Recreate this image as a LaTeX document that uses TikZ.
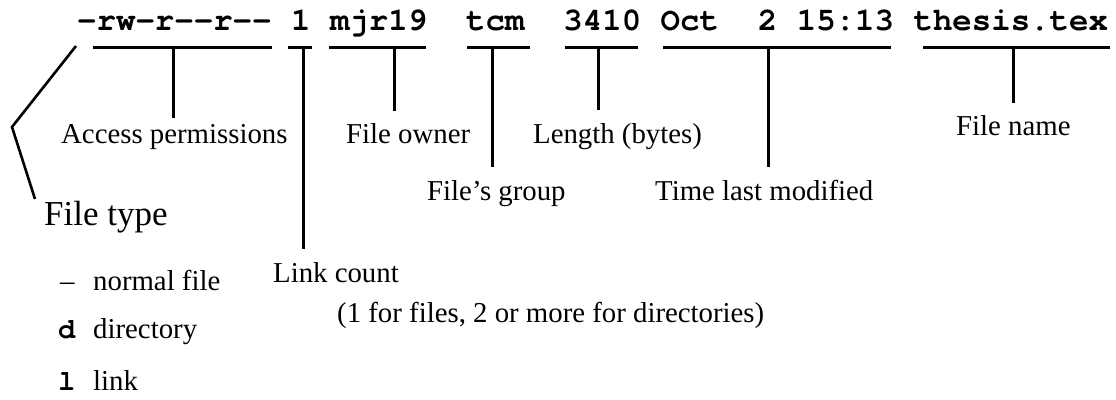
\documentclass[tikz,border=0pt]{standalone}
\usepackage{fontspec}
\setmainfont{Liberation Serif}
\newfontfamily\monob[Ligatures=NoCommon]{TeX Gyre Cursor}
\begin{document}
\begin{tikzpicture}[x=1pt,y=-1pt,
  lab/.style={anchor=base west, inner sep=0pt, font=\fontsize{28.8}{30}\selectfont},
  big/.style={anchor=base west, inner sep=0pt, font=\fontsize{35}{37}\selectfont},
  mono/.style={anchor=base west, inner sep=0pt, font=\fontsize{32.4}{34}\selectfont\monob\bfseries},
  monos/.style={anchor=base west, inner sep=0pt, font=\fontsize{28.8}{30}\selectfont\monob\bfseries},
  bar/.style={line width=3pt},
  lead/.style={line width=3pt},
  slant/.style={line width=2.6pt, line join=miter}]
\useasboundingbox (0,0) rectangle (1116,399);

% the ls -l line
\node[mono] (fperm)  at (77,30)     {-rw-r-{}-r-{}-};
\node[mono] (flink)  at (290.95,30) {1};
\node[mono] (fown)   at (329.85,30) {mjr19};
\node[mono] (fgrp)   at (466,30)    {tcm};
\node[mono] (fsize)  at (563.25,30) {3410};
\node[mono] (fmon)   at (660.5,30)  {Oct};
\node[mono] (fday)   at (757.75,30) {2};
\node[mono] (ftime)  at (796.65,30) {15:13};
\node[mono] (fname)  at (913.35,30) {thesis.tex};

% labels
\node[lab] (lperm)  at (61,143)  {Access permissions};
\node[lab] (lown)   at (346,143) {File owner};
\node[lab] (lsize)  at (533,143) {Length (bytes)};
\node[lab] (lname)  at (956,135) {File name};
\node[lab] (lgrp)   at (427,200) {File’s group};
\node[lab] (ltime)  at (655,200) {Time last modified};
\node[big] (ltype)  at (44,225)  {File type};
\node[lab] (llink)  at (273,282) {Link count};
\node[lab] (lnote)  at (337,322) {(1 for files, 2 or more for directories)};

\node[lab]   (tdash) at (60,290) {–};
\node[lab]   (tnorm) at (93,290) {normal file};
\node[monos] (td)    at (58,338) {d};
\node[lab]   (tdir)  at (93,338) {directory};
\node[monos] (tl)    at (58,390) {l};
\node[lab]   (tlink) at (93,390) {link};

% underbars
\coordinate (bpA) at (93,47);   \coordinate (bpB) at (272,47);
\coordinate (blA) at (288,47);  \coordinate (blB) at (312,47);
\coordinate (boA) at (329,47);  \coordinate (boB) at (426,47);
\coordinate (bgA) at (467,47);  \coordinate (bgB) at (530,47);
\coordinate (bsA) at (565,47);  \coordinate (bsB) at (638,47);
\coordinate (btA) at (663,47);  \coordinate (btB) at (891,47);
\coordinate (bnA) at (923,47);  \coordinate (bnB) at (1110,47);
\foreach \b in {p,l,o,g,s,t,n} \draw[bar] (b\b A) -- (b\b B);

% leaders
\coordinate (vp0) at (173,47);  \coordinate (vp1) at (173,118);
\coordinate (vl0) at (303,47);  \coordinate (vl1) at (303,249);
\coordinate (vo0) at (394,47);  \coordinate (vo1) at (394,111);
\coordinate (vg0) at (492,47);  \coordinate (vg1) at (492,167);
\coordinate (vs0) at (598,47);  \coordinate (vs1) at (598,110);
\coordinate (vt0) at (768,47);  \coordinate (vt1) at (768,167);
\coordinate (vn0) at (1013,47); \coordinate (vn1) at (1013,103);
\foreach \v in {p,l,o,g,s,t,n} \draw[lead] (v\v0) -- (v\v1);

% file type bracket
\coordinate (ft0) at (76,46);
\coordinate (ft1) at (12,127);
\coordinate (ft2) at (35,199);
\draw[slant] (ft0) -- (ft1) -- (ft2);
\end{tikzpicture}
\end{document}
